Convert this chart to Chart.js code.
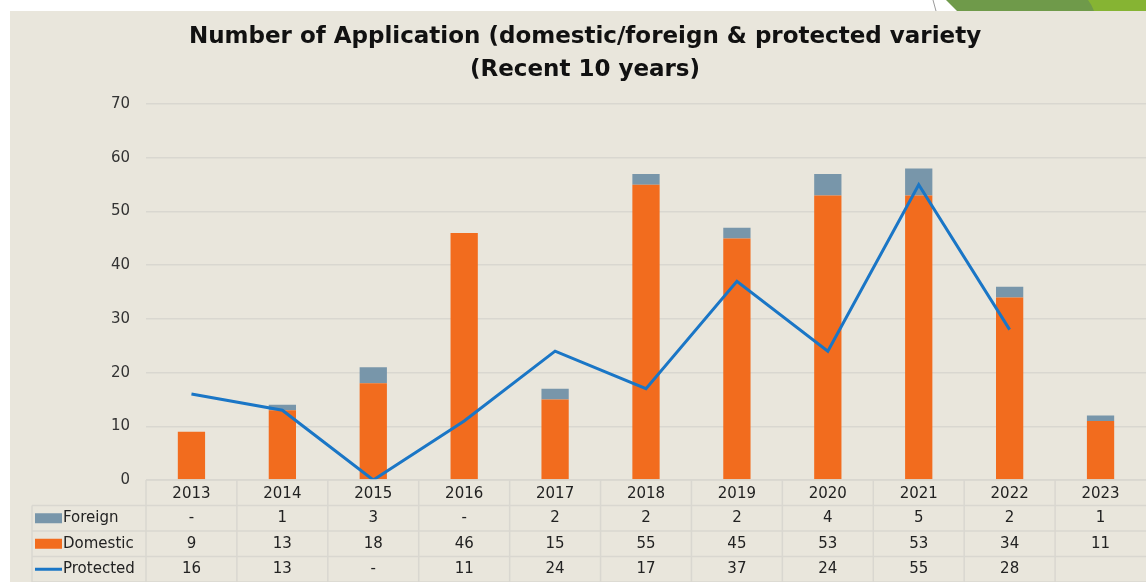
<!DOCTYPE html>
<html>
<head>
<meta charset="utf-8">
<script src="https://cdn.jsdelivr.net/npm/chart.js@4/dist/chart.umd.min.js"></script>
<style>
  body { margin: 0; background: #fff; width: 1146px; height: 582px; overflow: hidden; position: relative; }
  #deco { position: absolute; left: 0; top: 0; }
  #wrap { position: absolute; left: 10px; top: 11px; width: 1136px; height: 571px; background: #E9E6DC; }
</style>
</head>
<body>
<svg id="deco" width="1146" height="12">
  <line x1="933" y1="0" x2="936" y2="11" stroke="#9a9a9a" stroke-width="1"/>
  <polygon points="946,0 1146,0 1146,11 957,11" fill="#6F9A4A"/>
  <path d="M1088,0 L1146,0 L1146,11 L1094,11 Q1092,5 1088,0 Z" fill="#86B433"/>
</svg>
<div id="wrap"><canvas id="myChart" width="1136" height="571"></canvas></div>
<script>
// Chart data
const years = ['2013', '2014', '2015', '2016', '2017', '2018', '2019', '2020', '2021', '2022', '2023'];
const foreign = [0, 1, 3, 0, 2, 2, 2, 4, 5, 2, 1];
const domestic = [9, 13, 18, 46, 15, 55, 45, 53, 53, 34, 11];
const protectedVar = [16, 13, 0, 11, 24, 17, 37, 24, 55, 28, null];
const yTicks = [0, 10, 20, 30, 40, 50, 60, 70];

const orange = '#F26C1E';
const grey = '#7896AA';
const blue = '#1A76C6';
const lineGrid = '#D9D7D0';
const font = "'DejaVu Sans', sans-serif";

// Format table cells: 0 -> "-", missing -> blank
function cell(v) {
  if (v === null || v === undefined) return '';
  return v === 0 ? '-' : String(v);
}

// Draws the data table under the plot, using the x scale for the columns
const dataTable = {
  id: 'dataTable',
  afterDraw(chart) {
    const ctx = chart.ctx;
    const x = chart.scales.x;
    const area = chart.chartArea;
    const half = (x.getPixelForValue(1) - x.getPixelForValue(0)) / 2;
    const rowH = 25.5;
    const top = area.bottom;
    const legendLeft = 22;
    const rows = [
      { name: 'Foreign', vals: foreign, kind: 'box', color: grey },
      { name: 'Domestic', vals: domestic, kind: 'box', color: orange },
      { name: 'Protected', vals: protectedVar, kind: 'line', color: blue }
    ];

    ctx.save();
    ctx.strokeStyle = lineGrid;
    ctx.lineWidth = 1.5;
    // horizontal lines
    ctx.beginPath();
    ctx.moveTo(area.left, top);
    ctx.lineTo(area.right, top);
    for (let r = 1; r <= rows.length + 1; r++) {
      ctx.moveTo(legendLeft, top + r * rowH);
      ctx.lineTo(area.right, top + r * rowH);
    }
    // vertical lines
    ctx.moveTo(legendLeft, top + rowH);
    ctx.lineTo(legendLeft, top + (rows.length + 1) * rowH);
    years.forEach((y, i) => {
      const px = x.getPixelForValue(i) - half;
      ctx.moveTo(px, top);
      ctx.lineTo(px, top + (rows.length + 1) * rowH);
    });
    ctx.stroke();

    ctx.fillStyle = '#222';
    ctx.font = '15px ' + font;
    ctx.textAlign = 'center';
    ctx.textBaseline = 'middle';
    years.forEach((y, i) => {
      ctx.fillText(y, x.getPixelForValue(i), top + rowH / 2 + 1);
    });

    rows.forEach((row, r) => {
      const cy = top + (r + 1) * rowH + rowH / 2;
      if (row.kind === 'box') {
        ctx.fillStyle = row.color;
        ctx.fillRect(25, cy - 5, 27, 10);
      } else {
        ctx.strokeStyle = row.color;
        ctx.lineWidth = 3;
        ctx.beginPath();
        ctx.moveTo(25, cy);
        ctx.lineTo(52, cy);
        ctx.stroke();
      }
      ctx.fillStyle = '#222';
      ctx.textAlign = 'left';
      ctx.fillText(row.name, 53, cy);
      ctx.textAlign = 'center';
      row.vals.forEach((v, i) => {
        ctx.fillText(cell(v), x.getPixelForValue(i), cy);
      });
    });
    ctx.restore();
  }
};

const canvas = document.getElementById('myChart');
const ctx = canvas.getContext('2d');

new Chart(ctx, {
  type: 'bar',
  data: {
    labels: years,
    datasets: [
      {
        type: 'line',
        label: 'Protected',
        data: protectedVar,
        borderColor: blue,
        backgroundColor: blue,
        borderWidth: 3,
        pointRadius: 0,
        tension: 0,
        stack: 'line',
        order: 0
      },
      {
        label: 'Domestic',
        data: domestic,
        backgroundColor: orange,
        stack: 'apps',
        order: 1
      },
      {
        label: 'Foreign',
        data: foreign,
        backgroundColor: grey,
        stack: 'apps',
        order: 1
      }
    ]
  },
  options: {
    responsive: false,
    animation: false,
    layout: { padding: { left: 14, right: 0, top: 0, bottom: 102 } },
    datasets: { bar: { categoryPercentage: 1, barPercentage: 0.3 } },
    plugins: {
      legend: { display: false },
      tooltip: { enabled: false },
      title: {
        display: true,
        text: ['Number of Application (domestic/foreign & protected variety', '(Recent 10 years)'],
        color: '#111',
        font: { family: font, size: 23, weight: 'bold', lineHeight: 1.46 },
        padding: { top: 9, bottom: 17 }
      }
    },
    scales: {
      x: {
        stacked: true,
        display: false
      },
      y: {
        stacked: true,
        min: 0,
        max: 70,
        afterBuildTicks(scale) {
          scale.ticks = yTicks.map(v => ({ value: v }));
        },
        afterFit(scale) {
          scale.width = 122;
        },
        border: { display: false },
        grid: { color: lineGrid, lineWidth: 1.5, drawTicks: false },
        ticks: {
          color: '#333',
          padding: 16,
          font: { family: font, size: 15 }
        }
      }
    }
  },
  plugins: [dataTable]
});
</script>
</body>
</html>
